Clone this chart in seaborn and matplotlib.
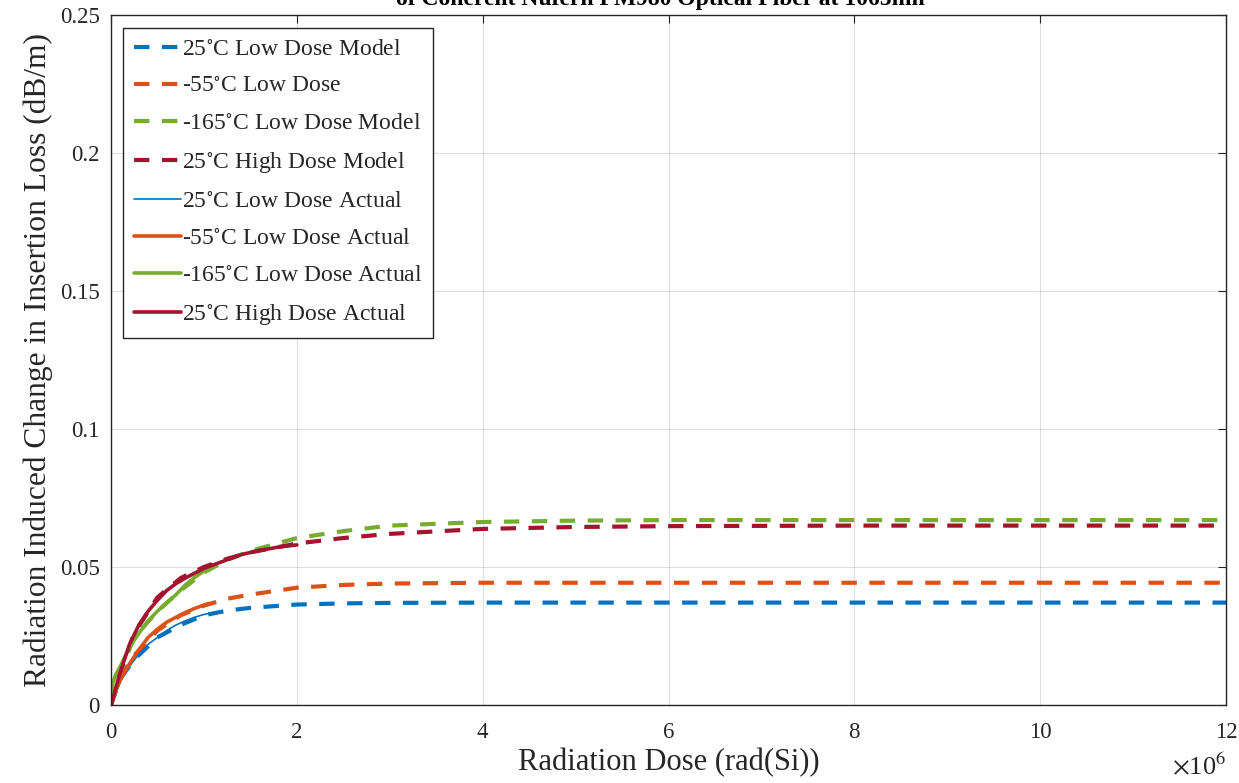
import numpy as np
import pandas as pd
import matplotlib
matplotlib.use("Agg")
import matplotlib.pyplot as plt
from matplotlib.ticker import FuncFormatter
import seaborn as sns

sns.set_theme(style="white")
plt.rcParams['font.family'] = ['Liberation Serif', 'DejaVu Serif']
plt.rcParams['mathtext.fontset'] = 'stix'

# ---- data (dose in rad(Si), loss in dB/m) ----
model_dose = [0, 0.1e6, 0.25e6, 0.5e6, 0.75e6, 1.0e6, 1.25e6, 1.5e6, 2e6, 2.5e6,
              3e6, 4e6, 5e6, 6e6, 8e6, 10e6, 12e6]
blue_model = [0, 0.0095, 0.0165, 0.0245, 0.029, 0.0325, 0.0342, 0.0352, 0.0364, 0.0368,
              0.037, 0.0371, 0.0371, 0.0371, 0.0371, 0.0371, 0.0371]
orange_model = [0, 0.010, 0.018, 0.027, 0.0325, 0.036, 0.0385, 0.040, 0.0425, 0.0435,
                0.0440, 0.0443, 0.0443, 0.0443, 0.0443, 0.0443, 0.0443]
green_model = [0, 0.012, 0.0245, 0.034, 0.0415, 0.048, 0.0525, 0.0558, 0.0605, 0.063,
               0.065, 0.0663, 0.0668, 0.067, 0.067, 0.067, 0.067]
red_model = [0, 0.012, 0.026, 0.039, 0.046, 0.050, 0.053, 0.0553, 0.0585, 0.0605,
             0.062, 0.0638, 0.0645, 0.0648, 0.065, 0.065, 0.065]

blue_act_dose = [0, 0.05e6, 0.1e6, 0.2e6, 0.3e6, 0.4e6, 0.5e6, 0.6e6, 0.7e6, 0.8e6, 0.9e6, 1.0e6, 1.1e6]
blue_act = [0, 0.004, 0.0085, 0.014, 0.0185, 0.022, 0.0245, 0.027, 0.029, 0.0305, 0.0318, 0.0328, 0.0335]
orange_act_dose = [0, 0.05e6, 0.1e6, 0.2e6, 0.3e6, 0.4e6, 0.5e6, 0.6e6, 0.7e6, 0.8e6, 0.9e6, 1.0e6, 1.05e6]
orange_act = [0, 0.005, 0.009, 0.015, 0.020, 0.0245, 0.0275, 0.030, 0.0318, 0.0335, 0.035, 0.0362, 0.0368]
green_act_dose = [0, 0.02e6, 0.05e6, 0.1e6, 0.2e6, 0.3e6, 0.4e6, 0.5e6, 0.6e6, 0.7e6, 0.8e6, 0.9e6, 1.0e6, 1.12e6]
green_act = [0, 0.008, 0.011, 0.014, 0.021, 0.026, 0.0305, 0.034, 0.037, 0.040, 0.0435, 0.0462, 0.0485, 0.0508]
red_act_dose = [0, 0.05e6, 0.1e6, 0.2e6, 0.3e6, 0.4e6, 0.5e6, 0.6e6, 0.7e6, 0.8e6, 1.0e6, 1.2e6, 1.4e6, 1.6e6, 1.8e6, 2.0e6]
red_act = [0, 0.006, 0.012, 0.022, 0.029, 0.034, 0.038, 0.0415, 0.044, 0.046, 0.0495, 0.052, 0.0545, 0.056, 0.0572, 0.058]

labels_model = [r'25$^{\circ}$C Low Dose Model', r'-55$^{\circ}$C Low Dose',
                r'-165$^{\circ}$C Low Dose Model', r'25$^{\circ}$C High Dose Model']
labels_act = [r'25$^{\circ}$C Low Dose Actual', r'-55$^{\circ}$C Low Dose Actual',
              r'-165$^{\circ}$C Low Dose Actual', r'25$^{\circ}$C High Dose Actual']
colors = ['#0072BD', '#D95319', '#77AC30', '#A2142F']

xticks = [0, 2e6, 4e6, 6e6, 8e6, 10e6, 12e6]
yticks = [0, 0.05, 0.1, 0.15, 0.2, 0.25]
ytick_labels = ['0', '0.05', '0.1', '0.15', '0.2', '0.25']

fig = plt.figure(figsize=(12.39, 7.83), dpi=100)
ax = fig.add_axes([111/1239, 78/783, 1115/1239, 690/783])

models = [blue_model, orange_model, green_model, red_model]
for y, c, lab in zip(models, colors, labels_model):
    sns.lineplot(x=model_dose, y=y, ax=ax, color=c, lw=3, estimator=None,
                 linestyle=(0, (3.7, 3.0)), label=lab)

acts = [(blue_act_dose, blue_act), (orange_act_dose, orange_act),
        (green_act_dose, green_act), (red_act_dose, red_act)]
act_lw = [1.2, 2.6, 2.6, 2.6]
for (xd, yd), c, lab, lw in zip(acts, colors, labels_act, act_lw):
    sns.lineplot(x=xd, y=yd, ax=ax, color=c, lw=lw, estimator=None, label=lab)

ax.set_xlim(0, 12e6)
ax.set_ylim(0, 0.25)
ax.set_xticks(xticks)
ax.set_yticks(yticks)
ax.set_yticklabels(ytick_labels)
ax.xaxis.set_major_formatter(FuncFormatter(lambda v, p: f'{v/1e6:g}'))

ax.grid(True, color='#000000', alpha=0.12, lw=0.8)
for s in ax.spines.values():
    s.set_color('#262626')
    s.set_linewidth(1.0)
ax.tick_params(direction='in', top=True, right=True, length=6, width=0.8,
               colors='#262626', labelsize=16.5, labelcolor='#262626')
ax.tick_params(axis='x', pad=12)
ax.tick_params(axis='y', pad=8)

ax.set_xlabel('Radiation Dose (rad(Si))', fontsize=22, color='#262626', labelpad=4)
ax.set_ylabel('Radiation Induced Change in Insertion Loss (dB/m)', fontsize=22.7,
              color='#262626', labelpad=5)

fig.text(1226/1239, 4/783, r'$\times$10$^{6}$', ha='right', va='bottom',
         fontsize=19, color='#262626')

leg = ax.legend(loc='upper left', bbox_to_anchor=(12/1115, 1 - 13/690), borderaxespad=0,
                fontsize=17, frameon=True, fancybox=False, framealpha=1,
                edgecolor='#262626', handlelength=2.0, handletextpad=0.05,
                labelspacing=0.66, borderpad=0.45)
leg.get_frame().set_linewidth(1.0)

fig.text(660/1239, (783 - 5)/783, 'of Coherent Nufern PM980 Optical Fiber at 1065nm',
         ha='center', va='baseline', fontsize=17, fontweight='bold', color='#000000')

fig.savefig('out.png', dpi=100)
